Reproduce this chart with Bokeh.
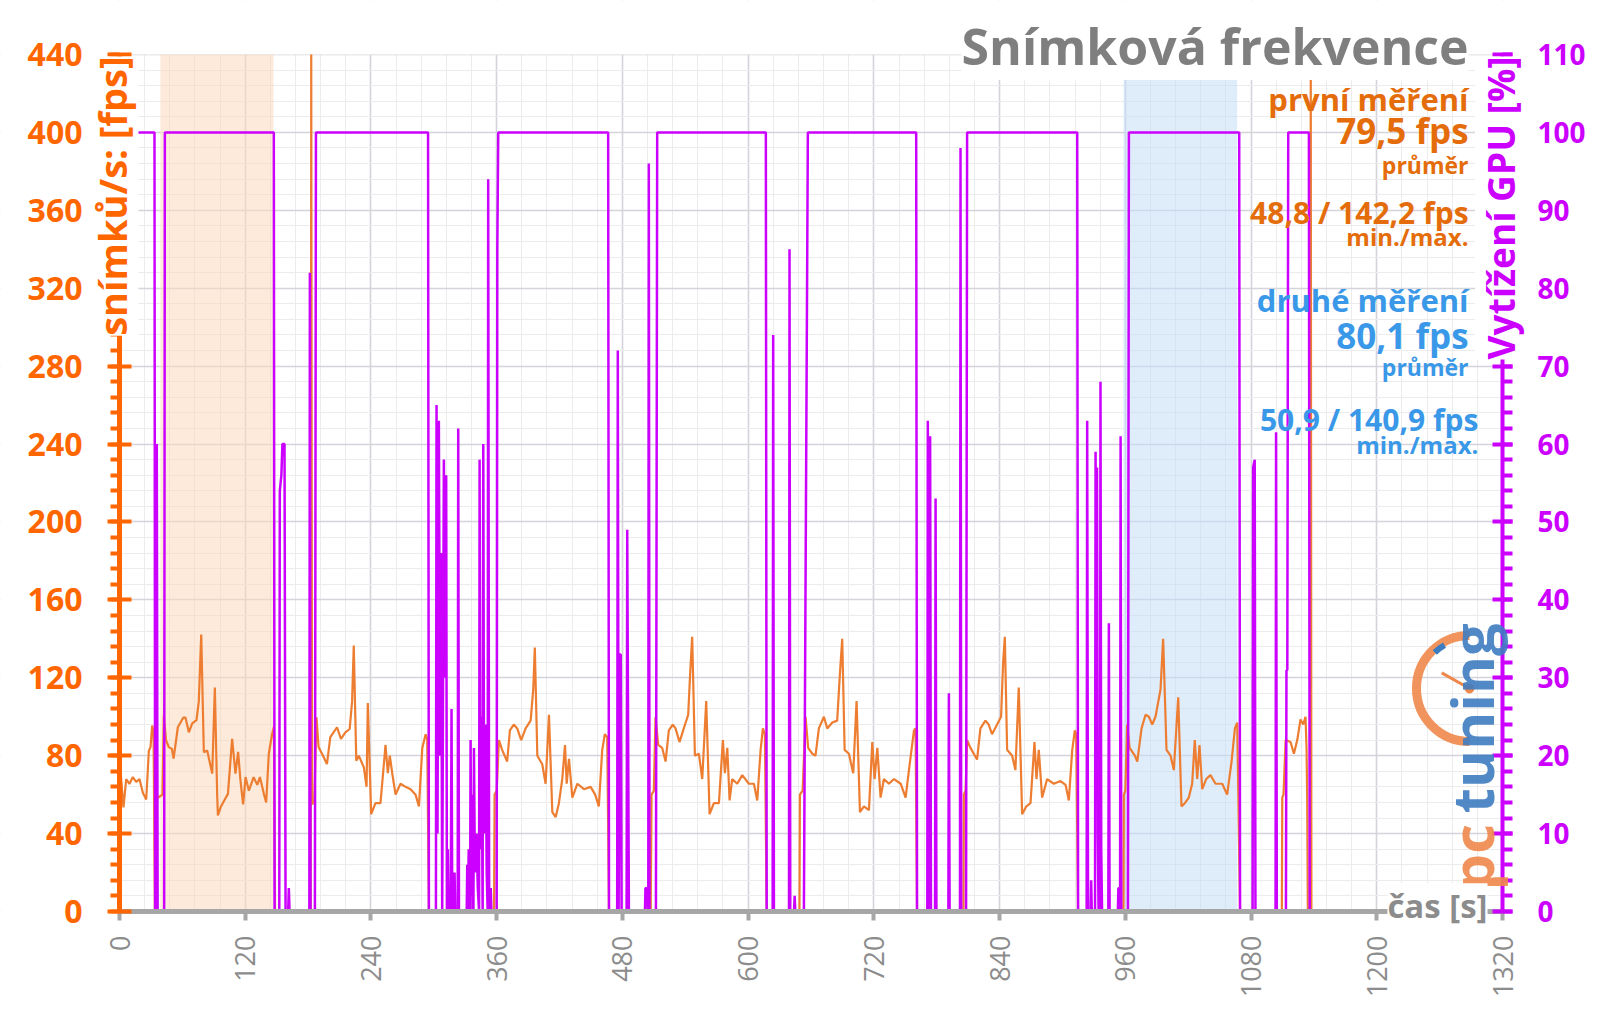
import math
from bokeh.plotting import figure
from bokeh.models import Range1d, LinearAxis, SingleIntervalTicker, BoxAnnotation, Label
from bokeh.embed import file_html
from bokeh.resources import INLINE

# ---------------- data: frame rate (fps) per run ----------------
run0_t = [0.7, 3.8, 6.4, 9.5, 12.7, 15.9, 19.1, 22.3, 25.5, 28, 29.6, 31.2]
run0_fps = [74, 53.5, 68, 65.5, 69, 66.5, 68, 61, 57.5, 82.5, 84.4, 95.5]
gap0_t = [32.5, 33.8, 35.5, 41]
gap0_fps = [92, 0, 58, 60]

run1_t = [42.3, 44.5, 47, 50, 51.6, 55.7, 60.8, 63, 66.2, 69.4, 73.5, 75.7, 78, 80.5, 83.7, 88.5, 91,
          93.2, 93.9, 96.5, 101, 103.5, 107.5, 110.7, 113.2, 115.5, 118, 120.3, 123.5, 128, 131.5,
          134, 137.8, 140, 142.5, 145.6, 147.4]
run1_fps = [100.6, 87.8, 84.4, 83.5, 78.5, 94.6, 99.5, 99.5, 92, 96.6, 98.3, 108, 142.2, 81.8, 82.7,
            70.8, 115, 60.4, 49.3, 53.5, 58, 60.4, 88.6, 70.8, 82, 67, 55, 69, 62, 69, 65, 69, 60.4,
            56, 81, 91, 94.8]
gap1_t = [148.5, 182.5, 183, 183.8, 186]
gap1_fps = [0, 0, 480, 55, 57]

run2_t = [188, 190, 193.3, 198, 201.2, 207.6, 211.4, 215.6, 219.7, 222, 223.6, 226, 228.4, 233.2,
          235.8, 237, 240.2, 244.3, 249.1, 253.9, 256.1, 258, 260.3, 263.5, 268.2, 273, 277.8,
          282.6, 285.8, 289, 292.2, 293.7]
run2_fps = [99.7, 84.4, 81, 75.7, 89.5, 94.6, 88.6, 92, 93.7, 108, 136.5, 77.4, 80, 74, 64, 107, 50,
            55.6, 55.6, 85.5, 71, 80, 71, 60, 65.6, 64, 62.8, 60, 54, 84, 91, 88.4]
gap2_t = [295.3, 357.5, 358, 360]
gap2_fps = [0, 0, 60, 62]

run3_t = [362.1, 365.2, 370, 372.6, 376.3, 379.6, 383.4, 387.6, 392.4, 394.9, 396.4, 398.8, 403.5,
          406.7, 409.9, 413.1, 416.3, 419.4, 422.6, 425.2, 426.8, 429, 432.2, 437, 443.3, 449.7,
          454, 457.5, 460.7, 463.2, 465.5]
run3_fps = [88, 83, 77, 93, 96, 94, 88, 94, 98, 114, 135.5, 80, 75.6, 65.6, 101, 51, 48.5, 55.6, 68,
            85.5, 65.6, 78.4, 58.5, 65.6, 62.8, 64, 60, 54, 82.7, 91, 89.5]
gap3_t = [467.2, 507, 507.8, 510]
gap3_fps = [0, 0, 60, 62]

run4_t = [511.6, 514.2, 518, 521.2, 524.3, 528.1, 530.7, 534.5, 538.6, 542.8, 544.7, 546.6, 549.2,
          553, 556.2, 560, 563.2, 567.3, 572.1, 575.9, 577.8, 580.1, 582.3, 584.8, 589.6, 594.4,
          600.7, 605.5, 608.7, 611.9, 614.1, 616]
run4_fps = [99.8, 85.5, 84, 77, 93, 96, 94, 87, 94, 101, 122.6, 141, 80, 81, 68, 108, 50, 55.6, 55.6,
            88, 71, 84, 57, 68, 65.6, 70, 65.6, 65.6, 57, 83, 94, 91]
gap4_t = [617.7, 649, 649.4, 652]
gap4_fps = [0, 0, 60, 62]

run5_t = [654.8, 657.3, 661.2, 664.3, 667.5, 672.3, 675.5, 680.3, 685, 687.6, 689.8, 692.1, 696.2,
          700.3, 703.5, 706.7, 710.5, 715.3, 718.5, 720.7, 723.3, 726.4, 729.6, 734.4, 739.2, 745.6,
          750.3, 754.5, 758.3, 759.8]
run5_fps = [100, 84, 81, 80, 94, 100, 94, 97, 98, 122, 140, 83, 81, 71, 108, 51, 54, 52, 87, 68, 84,
            58.5, 68, 65.6, 68, 65.6, 58.5, 77, 93, 94]
gap5_t = [761.2, 805.5, 805.9, 807.5]
gap5_fps = [0, 0, 60, 62]

run6_t = [809, 812.2, 818.5, 821.7, 826.5, 829.6, 832.8, 837.6, 841.4, 843.4, 845, 847.2, 852, 855.1,
          858.3, 861.5, 865.6, 869.5, 873.3, 875.2, 877.4, 880.6, 885.4, 891.7, 898.1, 903, 906.1,
          909.3, 911.8, 913.1]
run6_fps = [88, 84, 78, 94, 98, 96, 91, 96, 100, 128, 141, 83, 80, 72.6, 115, 50, 54, 55.6, 87, 68,
            83, 58.5, 68, 65.6, 67, 65, 57, 82.7, 93, 91]
gap6_t = [914.9, 958.2, 958.6, 960]
gap6_fps = [0, 0, 60, 62]

run7_t = [961.8, 964.1, 969.1, 971.4, 975.5, 979.3, 982.5, 985.7, 988.8, 993.6, 996.1, 999.3, 1003.2,
          1006.3, 1010.5, 1013.6, 1016.8, 1020.6, 1023.8, 1026.3, 1028.6, 1030.8, 1033.4, 1037.2,
          1041.3, 1046.1, 1052.5, 1057.2, 1061.4, 1064.6, 1066.8]
run7_fps = [96, 84, 80, 77, 94, 101, 100, 96, 100, 114, 140, 83, 80, 72.6, 110, 54, 55.6, 58.5, 65.6,
            88, 68, 85.5, 62.8, 68, 70, 65.6, 65.6, 60, 77, 94, 97]
gap7_t = [1069.5, 1109.4, 1109.8, 1111]
gap7_fps = [0, 0, 58.5, 60]

run8_t = [1113, 1117.7, 1120.9, 1124.1, 1127.2, 1129.8, 1132, 1133]
run8_fps = [88, 87, 81, 88, 98.6, 96, 100, 83]
end_t = [1133.6, 1134.2, 1136.5, 1137, 1137.6, 1200]
end_fps = [57, 0, 0, 480, 0, 0]

# ---------------- data: GPU load (%) ----------------
gpu0_t = [0, 33.4, 34, 35.2, 35.6, 36.4, 42.6, 43.3]
gpu0_v = [100, 100, 0, 0, 60, 0, 0, 100]
gpu1_t = [147.3, 148, 152.5, 153, 154.5, 155.5, 157.5, 158.5, 161, 161.6, 162.3, 181.2, 181.7, 182.3,
          186.5, 187.5]
gpu1_v = [100, 0, 0, 54, 56, 60, 60, 0, 0, 3, 0, 0, 82, 0, 0, 100]
gpu2_t = [294.5, 295.3, 302, 302.6, 303.5, 304.8, 306, 307, 308, 309.6, 310.5, 311.8, 312.5, 313.4,
          314.2, 316.2, 316.9, 317.6, 319.3, 319.8, 320.4, 322.8, 323.3, 324, 331.4, 331.9, 332.5,
          333.3, 334, 334.6, 335.1, 335.8, 336.6, 337.2, 337.8, 338.3, 339.2, 340.8, 342, 343.2,
          343.7, 344.5, 345.5, 346.6, 347.2, 348, 349.4, 350.5, 351.4, 351.9, 352.8, 354, 354.3, 355,
          360, 360.6, 361.5]
gpu2_v = [100, 0, 0, 65, 10, 63, 20, 46, 0, 58, 30, 56, 0, 8, 0, 0, 26, 0, 0, 5, 0, 0, 62, 0, 0, 6, 0,
          8, 0, 0, 22, 2, 15, 0, 0, 21, 5, 10, 3, 0, 58, 8, 25, 0, 60, 10, 24, 5, 0, 94, 0, 0, 3, 0,
          0, 85, 100]
gpu3_t = [466.4, 467.2, 475, 475.6, 476.4, 477.3, 478.4, 479.2, 484, 484.6, 485.4, 486.2, 501.5, 502,
          503.5, 504.2, 504.7, 505.2, 505.9, 512, 513.2]
gpu3_v = [100, 0, 0, 72, 0, 33, 33, 0, 0, 49, 24, 0, 0, 3, 3, 0, 0, 96, 0, 0, 100]
gpu4_t = [616.9, 617.7, 623.4, 623.9, 624.6, 639, 639.5, 640.2, 643.8, 644.4, 645, 653.2, 657]
gpu4_v = [100, 0, 0, 74, 0, 0, 85, 0, 0, 2, 0, 0, 100]
gpu5_t = [760.4, 761.2, 771, 771.5, 772.3, 773.2, 773.7, 774.5, 778.4, 778.9, 779.7, 791.1, 791.6,
          792.3, 802.2, 802.7, 803.4, 808, 809]
gpu5_v = [100, 0, 0, 63, 0, 0, 61, 0, 0, 53, 0, 0, 28, 0, 0, 98, 0, 0, 100]
gpu6_t = [914.1, 914.9, 923.1, 923.6, 924.4, 926.9, 927.4, 928, 931.1, 931.6, 932.3, 933, 933.7,
          934.5, 935.8, 936.3, 937, 937.8, 943.8, 944.3, 945, 952.9, 953.4, 954.3, 955, 955.5, 956.2,
          962.5, 963.4]
gpu6_v = [100, 0, 0, 63, 0, 0, 4, 0, 0, 59, 30, 57, 10, 0, 0, 68, 8, 0, 0, 37, 0, 0, 3, 3, 0, 61, 0,
          0, 100]
gpu7_t = [1068.7, 1069.5, 1081.5, 1082, 1083.5, 1084.2, 1103.4, 1103.9, 1104.6, 1113.3, 1113.8,
          1114.6, 1115.5]
gpu7_v = [100, 0, 0, 57, 58, 0, 0, 61.5, 0, 0, 31, 31, 100]
gpu8_t = [1135.2, 1136, 1200]
gpu8_v = [100, 0, 0]

# shaded measurement windows (s)
first_window = [39, 147]
second_window = [958.3, 1066.8]

# axis extents
X_MAX = 1320
FPS_MAX = 440
GPU_MAX = 110

fps_t = (run0_t + gap0_t + run1_t + gap1_t + run2_t + gap2_t + run3_t + gap3_t + run4_t + gap4_t +
         run5_t + gap5_t + run6_t + gap6_t + run7_t + gap7_t + run8_t + end_t)
fps_v = (run0_fps + gap0_fps + run1_fps + gap1_fps + run2_fps + gap2_fps + run3_fps + gap3_fps +
         run4_fps + gap4_fps + run5_fps + gap5_fps + run6_fps + gap6_fps + run7_fps + gap7_fps +
         run8_fps + end_fps)
fps_v = [min(v, FPS_MAX) for v in fps_v]   # values above the axis are clipped at its top
gpu_t = gpu0_t + gpu1_t + gpu2_t + gpu3_t + gpu4_t + gpu5_t + gpu6_t + gpu7_t + gpu8_t
gpu_v = gpu0_v + gpu1_v + gpu2_v + gpu3_v + gpu4_v + gpu5_v + gpu6_v + gpu7_v + gpu8_v

# ---------------- layout: the plot area sits inside the canvas ----------------
W, H = 1600, 1009
PLOT_L, PLOT_R, PLOT_T, PLOT_B = 119, 1502, 54, 911      # pixel box of the chart area
kx = (PLOT_R - PLOT_L) / X_MAX
ky = (PLOT_B - PLOT_T) / FPS_MAX
x_lo, x_hi = -PLOT_L / kx, (W - PLOT_L) / kx
y_lo, y_hi = -(H - PLOT_B) / ky, PLOT_B / ky
g_scale = GPU_MAX / FPS_MAX

# ---------------- style ----------------
AX_OR = "#FF6600"
TXT_OR = "#E46C0A"
TXT_BL = "#3A98E8"
MAG = "#CC00FF"
LINE_OR = "#ED7D31"
GRAY = "#A6A6A6"
FONT = "Open Sans"

p = figure(width=W, height=H, x_range=Range1d(x_lo, x_hi), y_range=Range1d(y_lo, y_hi),
           output_backend="svg", toolbar_location=None,
           min_border_left=0, min_border_right=0, min_border_top=0, min_border_bottom=0)
p.min_border = 0
p.outline_line_color = None
p.extra_y_ranges = {"gpu": Range1d(y_lo * g_scale, y_hi * g_scale)}

# x axis
xa = p.xaxis[0]
xa.fixed_location = 0
xa.bounds = (0, X_MAX)
xa.ticker = SingleIntervalTicker(interval=120, num_minor_ticks=5)
xa.axis_line_color = GRAY
xa.axis_line_width = 5
xa.major_tick_line_color = GRAY
xa.major_tick_line_width = 4
xa.major_tick_in = 0
xa.major_tick_out = 9
xa.minor_tick_line_color = None
xa.major_label_orientation = math.pi / 2
xa.major_label_text_font = FONT
xa.major_label_text_font_size = "27px"
xa.major_label_text_color = "#8C8C8C"
xa.major_label_standoff = 15

# left axis
ya = p.yaxis[0]
ya.fixed_location = 0
ya.bounds = (0, FPS_MAX)
ya.ticker = SingleIntervalTicker(interval=40, num_minor_ticks=5)
ya.axis_line_color = AX_OR
ya.axis_line_width = 5
ya.major_tick_line_color = AX_OR
ya.major_tick_line_width = 4
ya.major_tick_in = 12
ya.major_tick_out = 12
ya.minor_tick_line_color = AX_OR
ya.minor_tick_line_width = 4
ya.minor_tick_in = 0
ya.minor_tick_out = 9
ya.major_label_text_font = FONT
ya.major_label_text_font_style = "bold"
ya.major_label_text_font_size = "32px"
ya.major_label_text_color = AX_OR
ya.major_label_standoff = 25

# grids
p.xgrid.ticker = xa.ticker
p.ygrid.ticker = ya.ticker
for g in (p.xgrid, p.ygrid):
    g.grid_line_color = "#D4D4DA"
    g.grid_line_width = 1.6
    g.minor_grid_line_color = "#ECECEC"
    g.minor_grid_line_width = 1

# white margins around the chart area (hide grid outside it)
for kw in (dict(right=0), dict(left=X_MAX), dict(bottom=FPS_MAX), dict(top=0)):
    p.add_layout(BoxAnnotation(fill_color="white", fill_alpha=1, line_color=None,
                               level="underlay", **kw))

# right axis
ra = LinearAxis(y_range_name="gpu", ticker=SingleIntervalTicker(interval=10, num_minor_ticks=5))
ra.fixed_location = X_MAX
ra.bounds = (0, GPU_MAX)
ra.axis_line_color = MAG
ra.axis_line_width = 4
ra.major_tick_line_color = MAG
ra.major_tick_line_width = 4
ra.major_tick_in = 10
ra.major_tick_out = 10
ra.minor_tick_line_color = MAG
ra.minor_tick_line_width = 4
ra.minor_tick_in = 0
ra.minor_tick_out = 10
ra.major_label_text_font = FONT
ra.major_label_text_font_style = "bold"
ra.major_label_text_font_size = "28px"
ra.major_label_text_color = MAG
ra.major_label_standoff = 25
p.add_layout(ra, "right")

# shaded windows
p.add_layout(BoxAnnotation(left=first_window[0], right=first_window[1], bottom=0, top=FPS_MAX,
                           fill_color="#FCD9BC", fill_alpha=0.55, line_color=None, level="underlay"))
p.add_layout(BoxAnnotation(left=second_window[0], right=second_window[1], bottom=0, top=FPS_MAX,
                           fill_color="#BFDBF7", fill_alpha=0.5, line_color=None, level="underlay"))

# logo (decoration)
LOGO_OR = "#F0874A"
LOGO_BL = "#3E7CC0"
p.arc(x=[1288.5], y=[114.5], radius=53, radius_units="screen", start_angle=math.pi / 2,
      end_angle=3 * math.pi / 2, line_color=LOGO_OR, line_width=9, line_alpha=0.9)
p.arc(x=[1288.5], y=[114.5], radius=50, radius_units="screen", start_angle=math.radians(120),
      end_angle=math.radians(134), line_color=LOGO_BL, line_width=6)
p.segment(x0=[1288.5], y0=[114.5], x1=[1262], y1=[122.5], line_color=LOGO_OR, line_width=3)
p.scatter(x=[1288.5], y=[114.5], size=9, color=LOGO_OR)
p.add_layout(Label(x=1290, y=10.8, text="pc", angle=math.pi / 2, text_align="left",
                   text_baseline="middle", text_font=FONT, text_font_style="bold",
                   text_font_size="58px", text_color=LOGO_OR, text_alpha=0.9))
p.add_layout(Label(x=1290, y=50.5, text="tuning", angle=math.pi / 2, text_align="left",
                   text_baseline="middle", text_font=FONT, text_font_style="bold",
                   text_font_size="58px", text_color=LOGO_BL, text_alpha=0.9))

# data lines
p.line(fps_t, fps_v, line_color=LINE_OR, line_width=2.2)
p.line(gpu_t, gpu_v, y_range_name="gpu", line_color=MAG, line_width=2.5)

# axis titles
p.add_layout(Label(x=-6.7, y=439, text="snímků/s: [fps]", angle=math.pi / 2, text_align="right",
                   text_baseline="middle", text_font=FONT, text_font_style="bold",
                   text_font_size="38px", text_color=AX_OR, background_fill_color="white"))
p.add_layout(Label(x=1318.1, y=439, text="Vytížení GPU [%]", angle=math.pi / 2, text_align="right",
                   text_baseline="middle", text_font=FONT, text_font_style="bold",
                   text_font_size="37px", text_color=MAG, background_fill_color="white"))
p.add_layout(Label(x=1305.7, y=3, text="čas [s]", text_align="right", text_baseline="middle",
                   text_font=FONT, text_font_style="bold", text_font_size="33px",
                   text_color="#8C8C8C", background_fill_color="white"))

# title and annotations (vertical centres)
p.add_layout(Label(x=1287.6, y=444.3, text="Snímková frekvence", text_align="right",
                   text_baseline="middle", text_font=FONT, text_font_style="bold",
                   text_font_size="50px", text_color="#7F7F7F", background_fill_color="white"))

ann = [
    ("první měření", 417.4, "31px", TXT_OR, 1287.6),
    ("79,5 fps", 401.2, "35px", TXT_OR, 1287.6),
    ("průměr", 383.2, "23px", TXT_OR, 1287.6),
    ("48,8 / 142,2 fps", 359.1, "30px", TXT_OR, 1287.6),
    ("min./max.", 346.7, "24px", TXT_OR, 1287.6),
    ("druhé měření", 313.9, "31px", TXT_BL, 1287.6),
    ("80,1 fps", 295.9, "35px", TXT_BL, 1287.6),
    ("průměr", 279.8, "23px", TXT_BL, 1287.6),
    ("50,9 / 140,9 fps", 252.7, "30px", TXT_BL, 1297.0),
    ("min./max.", 239.8, "24px", TXT_BL, 1297.0),
]
for txt, yy, fs, col, xx in ann:
    p.add_layout(Label(x=xx, y=yy, text=txt, text_align="right", text_baseline="middle",
                       text_font=FONT, text_font_style="bold", text_font_size=fs, text_color=col))

open("out.html", "w").write(file_html(p, INLINE))
